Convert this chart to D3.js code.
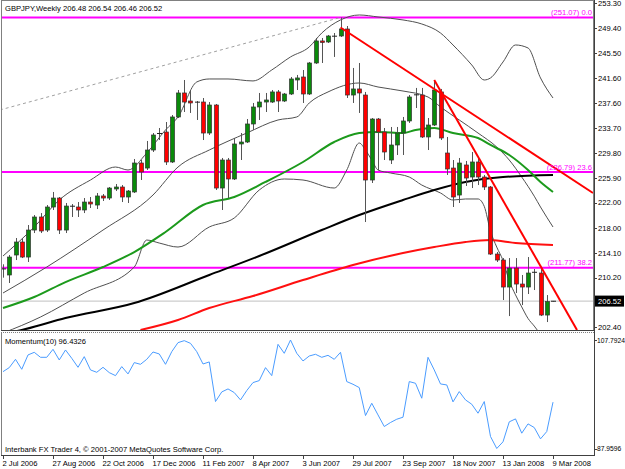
<!DOCTYPE html>
<html><head><meta charset="utf-8">
<script src="https://cdn.jsdelivr.net/npm/d3@7"></script>
<style>
body{margin:0;background:#fff}
svg{display:block}
text{font-family:"Liberation Sans",Arial,sans-serif;font-size:7.6px;fill:#000}
</style>
</head><body>
<svg id="c" width="625" height="469"></svg>
<script>
// ---------------- DATA ----------------
const symbol = "GBPJPY,Weekly";
const lastOHLC = [206.48, 206.54, 206.46, 206.52];
const dateLabels = ["2 Jul 2006","27 Aug 2006","22 Oct 2006","17 Dec 2006","11 Feb 2007","8 Apr 2007","3 Jun 2007","29 Jul 2007","23 Sep 2007","18 Nov 2007","13 Jan 2008","9 Mar 2008"];
const labelEvery = 8;
const priceTicks = [253.30,249.40,245.50,241.60,237.60,233.70,229.80,225.90,222.00,218.00,214.10,210.20,202.40];
const momTicks = [107.7924, 87.9596];
const momName = "Momentum(10)";
const copyright = "Interbank FX Trader 4, \u00A9 2001-2007 MetaQuotes Software Corp.";

const opens = [211.55,210.62,213.76,215.80,213.44,217.68,219.73,217.68,221.30,222.71,
217.68,221.45,221.30,220.83,222.08,221.61,223.03,222.71,224.13,224.44,
222.87,223.66,228.21,227.42,230.25,232.77,233.08,228.37,235.44,239.21,
237.95,237.79,237.79,232.92,237.32,224.28,228.68,225.70,231.20,231.51,
234.34,237.01,237.79,237.79,239.37,237.95,239.05,241.25,241.72,239.05,
243.92,247.38,247.22,248.16,248.16,249.26,238.89,239.84,238.89,225.54,
235.12,233.08,228.68,231.04,232.92,234.81,238.89,238.89,232.30,234.18,
239.37,229.78,227.42,223.18,227.90,226.01,228.37,226.01,224.44,213.91,
212.97,208.73,211.71,209.20,208.73,211.09,210.93,204.33,206.48];
const highs = [212.30,213.76,216.43,216.43,218.47,220.04,220.35,221.61,223.66,222.87,
221.93,221.77,222.08,222.71,222.87,223.50,223.34,224.44,224.91,224.75,
223.97,228.84,228.68,231.67,232.92,233.71,234.65,235.75,239.68,241.25,
239.68,237.95,238.42,237.79,237.48,229.00,229.00,232.14,232.92,235.12,
237.64,239.21,239.21,239.68,239.68,239.21,241.72,242.04,242.82,244.08,
247.85,247.85,248.32,248.63,251.07,249.73,243.14,243.92,239.37,235.28,
235.28,233.71,233.87,233.87,235.44,238.89,240.00,240.00,235.28,241.25,
239.84,232.30,228.68,229.00,228.53,229.94,229.00,226.33,224.60,214.23,
213.28,213.28,213.28,210.62,213.44,211.56,211.56,207.47,206.54];
const lows = [210.20,209.36,212.97,213.28,212.66,217.21,217.21,217.37,220.83,217.06,
217.21,219.73,219.73,220.35,221.14,220.98,222.24,222.40,223.81,222.08,
221.93,223.50,225.54,227.11,229.94,231.82,227.90,228.21,235.28,236.22,
236.07,234.97,231.82,232.61,223.97,220.83,222.71,225.54,228.68,231.35,
233.40,234.97,236.22,237.64,236.22,237.79,238.89,239.68,237.64,238.89,
243.77,243.92,247.06,244.87,248.01,238.42,237.64,236.07,218.94,225.07,
227.11,228.68,228.05,229.47,229.47,234.50,236.85,232.14,230.25,234.02,
231.82,226.33,221.30,221.93,224.60,224.28,224.75,223.97,213.76,212.66,
206.69,204.17,207.79,205.90,207.63,208.26,204.17,203.23,206.46];
const closes = [211.60,213.44,215.80,213.44,217.68,219.73,217.53,221.30,222.71,217.68,
221.45,221.40,220.83,222.08,221.77,223.03,222.71,224.28,224.44,222.87,
223.81,228.21,226.80,230.25,232.61,232.92,228.37,235.44,239.21,237.79,
237.64,237.75,232.92,237.32,224.28,228.68,225.70,231.20,231.51,234.34,
237.01,237.79,238.11,239.37,237.95,239.05,241.41,241.57,239.05,243.92,
247.38,247.14,248.16,248.10,249.26,238.89,239.84,239.21,225.54,235.12,
233.08,229.94,231.04,232.92,234.81,238.58,238.95,232.30,234.18,239.68,
232.14,227.27,222.87,228.21,225.85,228.37,226.01,224.44,213.91,212.97,
208.73,211.71,209.20,208.73,210.93,211.00,204.33,206.45,206.52];

const momentum = [102.01,102.74,104.26,102.44,105.06,105.54,104.63,104.63,106.09,104.14,
105.97,104.45,102.80,104.75,102.32,101.89,102.80,101.83,101.28,102.93,
101.59,103.66,103.35,104.26,105.60,105.24,103.35,105.66,107.31,107.67,
107.18,105.66,103.41,103.78,96.54,98.30,98.85,98.18,96.84,98.55,
100.01,100.37,102.74,101.28,107.00,105.36,107.79,105.36,103.96,104.87,
105.18,104.63,104.99,104.26,105.54,100.19,99.70,99.09,93.98,96.23,
94.10,91.98,92.71,93.31,93.68,100.19,99.88,97.15,104.63,102.32,
99.76,99.58,96.48,98.36,96.84,96.05,94.41,96.54,90.15,87.96,
89.18,92.83,93.37,90.76,92.46,91.79,89.72,91.06,96.4326];

// Indicator readings: [bar index, price]
const bbUpper = [[0,213.6],[5,218.16],[9,222.40],[14,225.54],[18,227.58],[20,227.11],[23,229.78],[26,233.40],[28,235.44],[31,240.94],[33,241.41],[36,241.41],[40,241.10],[43,242.82],[46,244.87],[49,246.44],[51,248.63],[54,250.68],[57,251.46],[60,251.15],[64,250.68],[67,250.05],[70,248.63],[72,246.75],[75,243.61],[77,241.25],[78,241.57],[80,244.08],[82,246.75],[84,246.28],[86,241.57],[88,238.42]];
const bbMiddle = [[0,207.79],[7,211.87],[16,217.68],[24,223.18],[28,227.58],[33,230.25],[39,232.92],[44,234.97],[47,235.44],[49,237.64],[52,239.37],[57,240.78],[60,240.15],[64,239.52],[68,238.58],[70,237.01],[73,234.97],[76,232.92],[79,230.72],[81,228.68],[83,226.0],[85,223.0],[86,221.3],[88,218.16]];
const bbLower = [[0,201.5],[6,204.02],[13,207.79],[21,211.87],[23,216.11],[25,215.64],[28,215.01],[33,218.16],[37,219.57],[41,223.97],[45,225.70],[48,225.54],[53,224.28],[55,227.11],[57,231.35],[58,230.25],[59,228.68],[60,227.11],[62,226.64],[65,226.01],[67,224.75],[70,223.50],[72,222.40],[74,222.56],[76,222.56],[77,221.4],[78,217.5],[79,215.0],[80,212.9],[81,209.7],[82,207.5],[83,205.6],[84,203.8],[85,202.6],[86,201.3],[87,200.2],[88,199.3]];
const maGreen = [[0,205.43],[5,207.16],[10,209.51],[16,211.87],[21,214.23],[26,217.37],[32,221.61],[37,222.87],[42,225.23],[48,228.37],[53,231.51],[57,232.92],[60,233.08],[64,232.92],[66,233.40],[69,233.71],[72,232.92],[76,232.14],[78,231.04],[81,229.47],[84,227.11],[86,225.23],[88,223.66]];
const maBlack = [[0,201.4],[3,201.98],[10,203.86],[21,206.21],[33,210.62],[41,213.60],[51,217.68],[57,220.04],[64,222.40],[69,223.97],[74,225.23],[80,226.01],[88,226.33]];
const maRed = [[22,201.98],[28,203.55],[33,205.43],[40,207.32],[48,209.83],[56,212.19],[64,214.07],[69,215.01],[74,215.80],[78,216.11],[82,215.64],[88,215.33]];
const trendLines = [[[54,249.5],[94.4,223.5]], [[69,241.25],[91.84,201.98]]];
const fibTrend = [[-0.5,236.54],[54,251.07]];
const fibLevels = [251.07, 226.79, 211.77];
const fibNames = ["0.0","23.6","38.2"];

// ---------------- LAYOUT ----------------
const L = 2, R = 594, mainTop = 0, mainBot = 330, momTop = 333, momBot = 455;
const svg = d3.select("#c");
const x = d3.scaleLinear().domain([0, closes.length - 1]).range([3, 553]);
const y = d3.scaleLinear().domain([201.98, 253.5]).range([mainBot, 2]);
const ym = d3.scaleLinear().domain([momTicks[1], momTicks[0]]).range([448.5, 340]);

const defs = svg.append("defs");
defs.append("clipPath").attr("id","mainClip").append("rect").attr("x",L).attr("y",mainTop).attr("width",R-L).attr("height",mainBot-mainTop);
defs.append("clipPath").attr("id","momClip").append("rect").attr("x",L).attr("y",momTop).attr("width",R-L).attr("height",momBot-momTop);

const main = svg.append("g").attr("clip-path","url(#mainClip)");

// current price line
main.append("line").attr("x1",L).attr("x2",R).attr("y1",y(lastOHLC[3])).attr("y2",y(lastOHLC[3])).attr("stroke","#c0c0c0").attr("stroke-width",1);

// fib levels
fibLevels.forEach((v,i)=>{
  main.append("line").attr("x1",L).attr("x2",R).attr("y1",y(v)).attr("y2",y(v)).attr("stroke","#ff00ff").attr("stroke-width",2);
});
// fib trend dashed
main.append("line").attr("x1",x(fibTrend[0][0])).attr("y1",y(fibTrend[0][1])).attr("x2",x(fibTrend[1][0])).attr("y2",y(fibTrend[1][1]))
  .attr("stroke","#a0a0a0").attr("stroke-width",1).attr("stroke-dasharray","3,3");

const line = d3.line().x(d=>x(d[0])).y(d=>y(d[1])).curve(d3.curveMonotoneX);
[[bbUpper,"#505050",1],[bbMiddle,"#505050",1],[bbLower,"#505050",1],[maRed,"#ff1010",2],[maBlack,"#000",2],[maGreen,"#1c9a1c",2]].forEach(([d,c,w])=>{
  main.append("path").attr("d",line(d)).attr("fill","none").attr("stroke",c).attr("stroke-width",w);
});

// candles
const cg = main.append("g");
closes.forEach((c,i)=>{
  const o = opens[i], h = highs[i], l = lows[i], cx = Math.round(x(i)) + 0.5;
  cg.append("line").attr("x1",cx).attr("x2",cx).attr("y1",y(h)).attr("y2",y(l)).attr("stroke","#555").attr("stroke-width",1);
  const top = y(Math.max(o,c)), bot = y(Math.min(o,c));
  if (bot - top < 1.2) {
    cg.append("line").attr("x1",cx-2.5).attr("x2",cx+2.5).attr("y1",(top+bot)/2).attr("y2",(top+bot)/2).attr("stroke","#222").attr("stroke-width",1);
  } else {
    cg.append("rect").attr("x",cx-2).attr("y",top).attr("width",4).attr("height",bot-top)
      .attr("fill", c >= o ? "#0a8a0a" : "#ff0000").attr("stroke","#333").attr("stroke-width",0.7);
  }
});

// trend lines
trendLines.forEach(t=>{
  main.append("line").attr("x1",x(t[0][0])).attr("y1",y(t[0][1])).attr("x2",x(t[1][0])).attr("y2",y(t[1][1]))
    .attr("stroke","#ff0000").attr("stroke-width",2);
});

// fib labels
fibLevels.forEach((v,i)=>{
  svg.append("text").attr("x",R-2).attr("y",y(v)-2.5).attr("text-anchor","end").style("fill","#ff00ff")
    .text("(" + v.toFixed(2) + ") " + fibNames[i]);
});

// header
svg.append("text").attr("x",5).attr("y",11).text(symbol + "  " + lastOHLC.map(v=>v.toFixed(2)).join(" "));

// momentum
svg.append("g").attr("clip-path","url(#momClip)").append("path")
  .attr("d", d3.line().x((d,i)=>x(i)).y(d=>ym(d))(momentum))
  .attr("fill","none").attr("stroke","#4a9cff").attr("stroke-width",1);
svg.append("text").attr("x",5).attr("y",344).text(momName + " " + momentum[momentum.length-1].toFixed(4));
svg.append("text").attr("x",5).attr("y",452).text(copyright);

// frames
svg.append("rect").attr("x",L-0.5).attr("y",0.5).attr("width",R-L).attr("height",mainBot).attr("fill","none").attr("stroke","#808080");
svg.append("line").attr("x1",L-1).attr("x2",R).attr("y1",mainBot+0.5).attr("y2",mainBot+0.5).attr("stroke","#404040");
svg.append("line").attr("x1",L-1).attr("x2",R).attr("y1",momTop-0.5).attr("y2",momTop-0.5).attr("stroke","#808080").attr("stroke-dasharray","1,1");
svg.append("line").attr("x1",L-0.5).attr("x2",L-0.5).attr("y1",momTop).attr("y2",momBot).attr("stroke","#808080");
svg.append("line").attr("x1",R+0.5).attr("x2",R+0.5).attr("y1",0).attr("y2",momBot).attr("stroke","#404040");
svg.append("line").attr("x1",L-1).attr("x2",R+1).attr("y1",momBot+0.5).attr("y2",momBot+0.5).attr("stroke","#404040");

// price axis
const ax = svg.append("g");
priceTicks.forEach(v=>{
  ax.append("line").attr("x1",R).attr("x2",R+3).attr("y1",Math.round(y(v))+0.5).attr("y2",Math.round(y(v))+0.5).attr("stroke","#404040");
  ax.append("text").attr("x",R+4).attr("y",y(v)+2.8).text(v.toFixed(2));
});
// current price box
const py = y(lastOHLC[3]);
ax.append("rect").attr("x",R+1).attr("y",py-5.5).attr("width",29).attr("height",11).attr("fill","#000");
ax.append("text").attr("x",R+4).attr("y",py+2.8).style("fill","#fff").text(lastOHLC[3].toFixed(2));
// momentum axis
momTicks.forEach(v=>{
  ax.append("line").attr("x1",R).attr("x2",R+3).attr("y1",Math.round(ym(v))+0.5).attr("y2",Math.round(ym(v))+0.5).attr("stroke","#404040");
  ax.append("text").attr("x",R+3).attr("y",ym(v)+2.6).style("font-size","6.7px").text(v.toFixed(4));
});
// date axis
dateLabels.forEach((s,k)=>{
  const tx = Math.round(x(k*labelEvery))+0.5;
  ax.append("line").attr("x1",tx).attr("x2",tx).attr("y1",momBot).attr("y2",momBot+4).attr("stroke","#404040");
  ax.append("text").attr("x",tx-1).attr("y",466).text(s);
});
</script>
</body></html>
